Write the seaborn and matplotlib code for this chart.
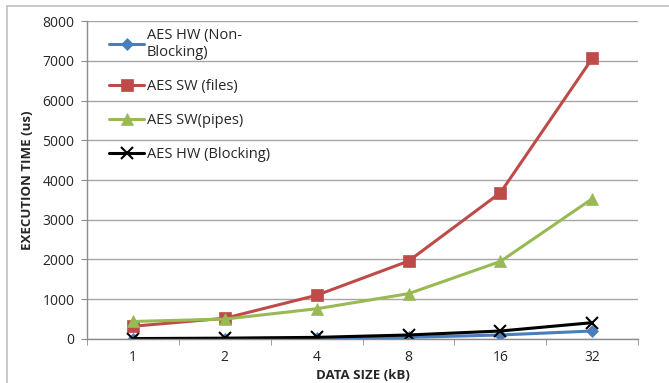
import numpy as np
import pandas as pd
import seaborn as sns
import matplotlib.pyplot as plt
from matplotlib.patches import Rectangle
from matplotlib.ticker import FixedLocator

# ------------------ Datos ------------------
tamanos = ["1", "2", "4", "8", "16", "32"]
hw_no_bloq = [5, 10, 20, 40, 100, 200]
sw_archivos = [320, 520, 1100, 1960, 3680, 7060]
sw_pipes = [440, 500, 760, 1140, 1950, 3530]
hw_bloq = [10, 20, 40, 100, 200, 410]

series = [
    ("AES HW (Non-\nBlocking)", hw_no_bloq, "#4a7ebb", "D", 6),
    ("AES SW (files)", sw_archivos, "#be4b48", "s", 8),
    ("AES SW(pipes)", sw_pipes, "#98b954", "^", 9),
    ("AES HW (Blocking)", hw_bloq, "#000000", "x", 9),
]

sns.set_style("white")
plt.rcParams['font.family'] = ['Open Sans', 'DejaVu Sans']

fig = plt.figure(figsize=(6.69, 3.83), dpi=100)
ax = fig.add_axes([0.130, 0.115, 0.824, 0.830])

# marco exterior
fig.patches.append(Rectangle((7 / 669, -0.01), 1.0, 1 - 6 / 383 + 0.01, transform=fig.transFigure,
                             fill=False, edgecolor="#c0c0c0", linewidth=1.2, zorder=0))

for nombre, valores, color, marcador, tam in series:
    df = pd.DataFrame({"Tamano": tamanos, "Tiempo": valores})
    sns.lineplot(data=df, x="Tamano", y="Tiempo", ax=ax, color=color, marker=marcador,
                 markersize=tam, linewidth=2.2, label=nombre, sort=False,
                 markeredgecolor=color, markeredgewidth=1.5 if marcador == "x" else 0.5)

ax.set_xlim(-0.5, 5.5)
ax.set_ylim(0, 8000)
ax.set_yticks(np.arange(0, 8001, 1000))
ax.yaxis.grid(True, color="#a6a6a6", linewidth=1)
ax.xaxis.grid(False)
ax.set_axisbelow(True)

for lado in ["top", "right"]:
    ax.spines[lado].set_visible(False)
for lado in ["left", "bottom"]:
    ax.spines[lado].set_color("#8c8c8c")
    ax.spines[lado].set_linewidth(1)

ax.xaxis.set_minor_locator(FixedLocator(np.arange(-0.5, 6, 1)))
ax.tick_params(axis="x", which="major", length=0, pad=8, labelsize=10, labelcolor="#262626")
ax.tick_params(axis="x", which="minor", length=4, direction="out", color="#8c8c8c", bottom=True)
ax.tick_params(axis="y", length=4, direction="out", color="#8c8c8c", left=True, labelsize=10,
               labelcolor="#262626", pad=5)

ax.set_xlabel("DATA SIZE (kB)", fontsize=9.5, fontweight="bold", labelpad=3)
ax.set_ylabel("EXECUTION TIME (us)", fontsize=9.5, fontweight="bold", labelpad=6)

ax.legend(loc="upper left", bbox_to_anchor=(0.017, 1.02), frameon=False, fontsize=10.5,
          labelspacing=1.3, handlelength=2.4, handletextpad=0.15)

fig.savefig("out.png", dpi=100)
